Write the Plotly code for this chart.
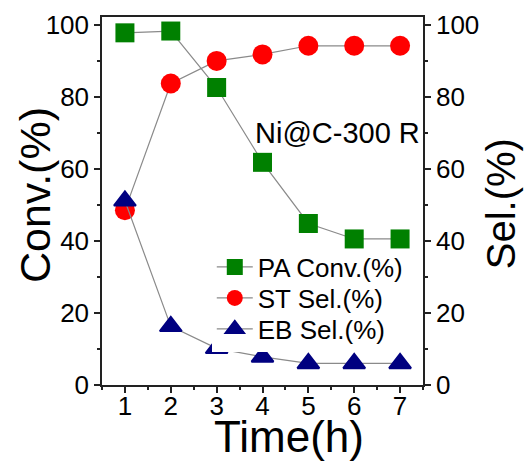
import plotly.graph_objects as go

time_h = [1, 2, 3, 4, 5, 6, 7]
pa_conv = [97.9, 98.4, 82.7, 61.9, 44.9, 40.6, 40.6]
st_sel = [48.6, 83.8, 90.1, 91.9, 94.3, 94.3, 94.3]
eb_sel = [51.2, 16.3, 10.2, 7.8, 6.0, 6.0, 6.0]
y_ticks = [0, 20, 40, 60, 80, 100]

FONT = "Liberation Sans, Arial, sans-serif"
LINE = "#8a8a8a"
AX = "#222222"

fig = go.Figure()
fig.add_trace(go.Scatter(
    x=time_h, y=pa_conv, name="PA Conv.(%)", mode="lines+markers", legend="legend2",
    line=dict(color=LINE, width=1.2),
    marker=dict(symbol="square", size=19, color="#008000"),
))
fig.add_trace(go.Scatter(
    x=time_h, y=st_sel, name="ST Sel.(%)", mode="lines+markers", yaxis="y2", legend="legend3",
    line=dict(color=LINE, width=1.2),
    marker=dict(symbol="circle", size=20, color="#ff0000"),
))
fig.add_trace(go.Scatter(
    x=time_h, y=eb_sel, name="EB Sel.(%)", mode="lines+markers", yaxis="y2", legend="legend",
    line=dict(color=LINE, width=1.2),
    marker=dict(symbol="triangle-up", size=19, color="#000080",
                line=dict(color="#000080", width=2)),
))

axis_common = dict(
    showgrid=False, zeroline=False, showline=True, linecolor=AX, linewidth=1.5,
    ticks="outside", ticklen=6, tickwidth=1.5, tickcolor=AX, automargin=False,
    tickfont=dict(family=FONT, size=26, color="#000"),
)

def leg(yc, bg):
    return dict(
        x=0.342, y=yc, xanchor="left", yanchor="middle",
        bgcolor=bg, borderwidth=0,
        font=dict(family=FONT, size=26, color="#000"),
        tracegroupgap=0, itemwidth=36,
    )

def label(text, x, y, size, angle=0, pad=1):
    return dict(
        text=text, x=x, y=y, xref="paper", yref="paper",
        xanchor="center", yanchor="middle", textangle=angle, borderpad=pad,
        showarrow=False, font=dict(family=FONT, size=size, color="#000"),
    )

fig.update_layout(
    width=524, height=462,
    margin=dict(l=102, r=101, t=17, b=77, autoexpand=False),
    paper_bgcolor="white", plot_bgcolor="white",
    font=dict(family=FONT, color="#000"),
    showlegend=True,
    legend=leg(0.1522, "white"),
    legend2=leg(0.3207, "rgba(0,0,0,0)"),
    legend3=leg(0.2364, "rgba(0,0,0,0)"),
    xaxis=dict(
        **axis_common, range=[0.5, 7.5], tickvals=time_h, mirror=True, ticklabelstandoff=-9,
        minor=dict(ticks="outside", ticklen=3, dtick=0.5, tick0=0.5, tickcolor=AX, tickwidth=1.5),
    ),
    yaxis=dict(
        **axis_common, range=[0, 102.3], tickvals=y_ticks,
        minor=dict(ticks="outside", ticklen=3, dtick=10, tickcolor=AX, tickwidth=1.5),
    ),
    yaxis2=dict(
        **axis_common, range=[0, 102.3], tickvals=y_ticks, overlaying="y", side="right",
        minor=dict(ticks="outside", ticklen=3, dtick=10, tickcolor=AX, tickwidth=1.5),
    ),
    annotations=[
        label("Ni@C-300 R", 0.733, 0.686, 29),
        label("Conv.(%)", -0.209, 0.516, 43, -90),
        label("Sel.(%)", 1.244, 0.492, 40, -90),
        label("Time(h)", 0.581, -0.1386, 44, pad=0),
    ],
)

fig.write_html("out.html")
